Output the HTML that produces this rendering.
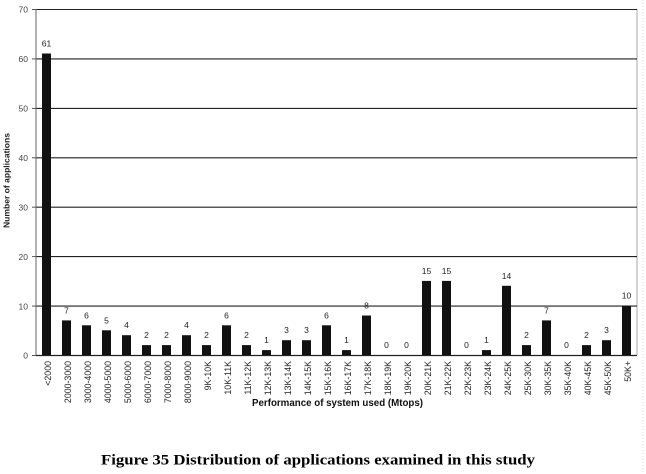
<!DOCTYPE html>
<html>
<head>
<meta charset="utf-8">
<style>
  html,body{margin:0;padding:0;background:#fff;}
  body{width:646px;height:474px;overflow:hidden;}
  svg{display:block;}
  .t{font-family:"Liberation Sans",Arial,sans-serif;}
</style>
</head>
<body>
<svg width="646" height="474" viewBox="0 0 646 474" xmlns="http://www.w3.org/2000/svg">
  <rect x="0" y="0" width="646" height="474" fill="#fff"/>
  <line x1="643" y1="0" x2="643" y2="474" stroke="#ddd" stroke-width="1" stroke-dasharray="1,2"/>
  <line x1="637" y1="9" x2="637" y2="355" stroke="#aaa" stroke-width="1"/>
  <g stroke="#222" stroke-width="1.1">
    <line x1="36" y1="9.5" x2="637" y2="9.5"/>
    <line x1="36" y1="58.9" x2="637" y2="58.9"/>
    <line x1="36" y1="108.4" x2="637" y2="108.4"/>
    <line x1="36" y1="157.8" x2="637" y2="157.8"/>
    <line x1="36" y1="207.2" x2="637" y2="207.2"/>
    <line x1="36" y1="256.6" x2="637" y2="256.6"/>
    <line x1="36" y1="306.1" x2="637" y2="306.1"/>
  </g>
  <g stroke="#555" stroke-width="1">
    <line x1="32" y1="9.5" x2="36" y2="9.5"/>
    <line x1="32" y1="58.9" x2="36" y2="58.9"/>
    <line x1="32" y1="108.4" x2="36" y2="108.4"/>
    <line x1="32" y1="157.8" x2="36" y2="157.8"/>
    <line x1="32" y1="207.2" x2="36" y2="207.2"/>
    <line x1="32" y1="256.6" x2="36" y2="256.6"/>
    <line x1="32" y1="306.1" x2="36" y2="306.1"/>
    <line x1="32" y1="355.5" x2="36" y2="355.5"/>
  </g>
  <line x1="36" y1="9" x2="36" y2="356" stroke="#666" stroke-width="1"/>
  <g class="t" font-size="8.5" fill="#444" text-anchor="end">
    <text x="28" y="12.5">70</text>
    <text x="28" y="62">60</text>
    <text x="28" y="111.5">50</text>
    <text x="28" y="161">40</text>
    <text x="28" y="210.5">30</text>
    <text x="28" y="260">20</text>
    <text x="28" y="309.5">10</text>
    <text x="28" y="358.5">0</text>
  </g>
  <text class="t" font-size="8.5" font-weight="bold" fill="#222" text-anchor="middle" transform="translate(9.5,180.5) rotate(-90)" textLength="95" lengthAdjust="spacingAndGlyphs">Number of applications</text>

  <g fill="#111">
    <rect x="42" y="53.5" width="9" height="301.5"/>
    <rect x="62" y="320.4" width="9" height="34.6"/>
    <rect x="82" y="325.3" width="9" height="29.7"/>
    <rect x="102" y="330.3" width="9" height="24.7"/>
    <rect x="122" y="335.2" width="9" height="19.8"/>
    <rect x="142" y="345.1" width="9" height="9.9"/>
    <rect x="162" y="345.1" width="9" height="9.9"/>
    <rect x="182" y="335.2" width="9" height="19.8"/>
    <rect x="202" y="345.1" width="9" height="9.9"/>
    <rect x="222" y="325.3" width="9" height="29.7"/>
    <rect x="242" y="345.1" width="9" height="9.9"/>
    <rect x="262" y="350.1" width="9" height="4.9"/>
    <rect x="282" y="340.2" width="9" height="14.8"/>
    <rect x="302" y="340.2" width="9" height="14.8"/>
    <rect x="322" y="325.3" width="9" height="29.7"/>
    <rect x="342" y="350.1" width="9" height="4.9"/>
    <rect x="362" y="315.5" width="9" height="39.5"/>
    <rect x="422" y="280.9" width="9" height="74.1"/>
    <rect x="442" y="280.9" width="9" height="74.1"/>
    <rect x="482" y="350.1" width="9" height="4.9"/>
    <rect x="502" y="285.8" width="9" height="69.2"/>
    <rect x="522" y="345.1" width="9" height="9.9"/>
    <rect x="542" y="320.4" width="9" height="34.6"/>
    <rect x="582" y="345.1" width="9" height="9.9"/>
    <rect x="602" y="340.2" width="9" height="14.8"/>
    <rect x="622" y="305.6" width="9" height="49.4"/>
  </g>

  <line x1="36" y1="355.5" x2="637" y2="355.5" stroke="#222" stroke-width="1.2"/>

  <g class="t" font-size="8.5" fill="#222" text-anchor="middle">
    <text x="46.5" y="46.5">61</text>
    <text x="66.5" y="313.4">7</text>
    <text x="86.5" y="318.3">6</text>
    <text x="106.5" y="323.3">5</text>
    <text x="126.5" y="328.2">4</text>
    <text x="146.5" y="338.1">2</text>
    <text x="166.5" y="338.1">2</text>
    <text x="186.5" y="328.2">4</text>
    <text x="206.5" y="338.1">2</text>
    <text x="226.5" y="318.3">6</text>
    <text x="246.5" y="338.1">2</text>
    <text x="266.5" y="343.1">1</text>
    <text x="286.5" y="333.2">3</text>
    <text x="306.5" y="333.2">3</text>
    <text x="326.5" y="318.3">6</text>
    <text x="346.5" y="343.1">1</text>
    <text x="366.5" y="308.5">8</text>
    <text x="386.5" y="348">0</text>
    <text x="406.5" y="348">0</text>
    <text x="426.5" y="273.9">15</text>
    <text x="446.5" y="273.9">15</text>
    <text x="466.5" y="348">0</text>
    <text x="486.5" y="343.1">1</text>
    <text x="506.5" y="278.8">14</text>
    <text x="526.5" y="338.1">2</text>
    <text x="546.5" y="313.4">7</text>
    <text x="566.5" y="348">0</text>
    <text x="586.5" y="338.1">2</text>
    <text x="606.5" y="333.2">3</text>
    <text x="626.5" y="298.6">10</text>
  </g>

  <g class="t" font-size="8.8" fill="#222" text-anchor="end">
    <text transform="translate(51.2,361) rotate(-90)">&lt;2000</text>
    <text transform="translate(71.2,361) rotate(-90)">2000-3000</text>
    <text transform="translate(91.2,361) rotate(-90)">3000-4000</text>
    <text transform="translate(111.2,361) rotate(-90)">4000-5000</text>
    <text transform="translate(131.2,361) rotate(-90)">5000-6000</text>
    <text transform="translate(151.2,361) rotate(-90)">6000-7000</text>
    <text transform="translate(171.2,361) rotate(-90)">7000-8000</text>
    <text transform="translate(191.2,361) rotate(-90)">8000-9000</text>
    <text transform="translate(211.2,361) rotate(-90)">9K-10K</text>
    <text transform="translate(231.2,361) rotate(-90)">10K-11K</text>
    <text transform="translate(251.2,361) rotate(-90)">11K-12K</text>
    <text transform="translate(271.2,361) rotate(-90)">12K-13K</text>
    <text transform="translate(291.2,361) rotate(-90)">13K-14K</text>
    <text transform="translate(311.2,361) rotate(-90)">14K-15K</text>
    <text transform="translate(331.2,361) rotate(-90)">15K-16K</text>
    <text transform="translate(351.2,361) rotate(-90)">16K-17K</text>
    <text transform="translate(371.2,361) rotate(-90)">17K-18K</text>
    <text transform="translate(391.2,361) rotate(-90)">18K-19K</text>
    <text transform="translate(411.2,361) rotate(-90)">19K-20K</text>
    <text transform="translate(431.2,361) rotate(-90)">20K-21K</text>
    <text transform="translate(451.2,361) rotate(-90)">21K-22K</text>
    <text transform="translate(471.2,361) rotate(-90)">22K-23K</text>
    <text transform="translate(491.2,361) rotate(-90)">23K-24K</text>
    <text transform="translate(511.2,361) rotate(-90)">24K-25K</text>
    <text transform="translate(531.2,361) rotate(-90)">25K-30K</text>
    <text transform="translate(551.2,361) rotate(-90)">30K-35K</text>
    <text transform="translate(571.2,361) rotate(-90)">35K-40K</text>
    <text transform="translate(591.2,361) rotate(-90)">40K-45K</text>
    <text transform="translate(611.2,361) rotate(-90)">45K-50K</text>
    <text transform="translate(631.2,361) rotate(-90)">50K+</text>
  </g>

  <text class="t" x="252" y="406" font-size="9.7" font-weight="bold" fill="#111" textLength="171" lengthAdjust="spacingAndGlyphs">Performance of system used (Mtops)</text>

  <text x="101" y="464.5" font-family="'Liberation Serif','Times New Roman',serif" font-size="14.5" font-weight="bold" fill="#000" textLength="434" lengthAdjust="spacingAndGlyphs">Figure 35 Distribution of applications examined in this study</text>
</svg>
</body>
</html>
